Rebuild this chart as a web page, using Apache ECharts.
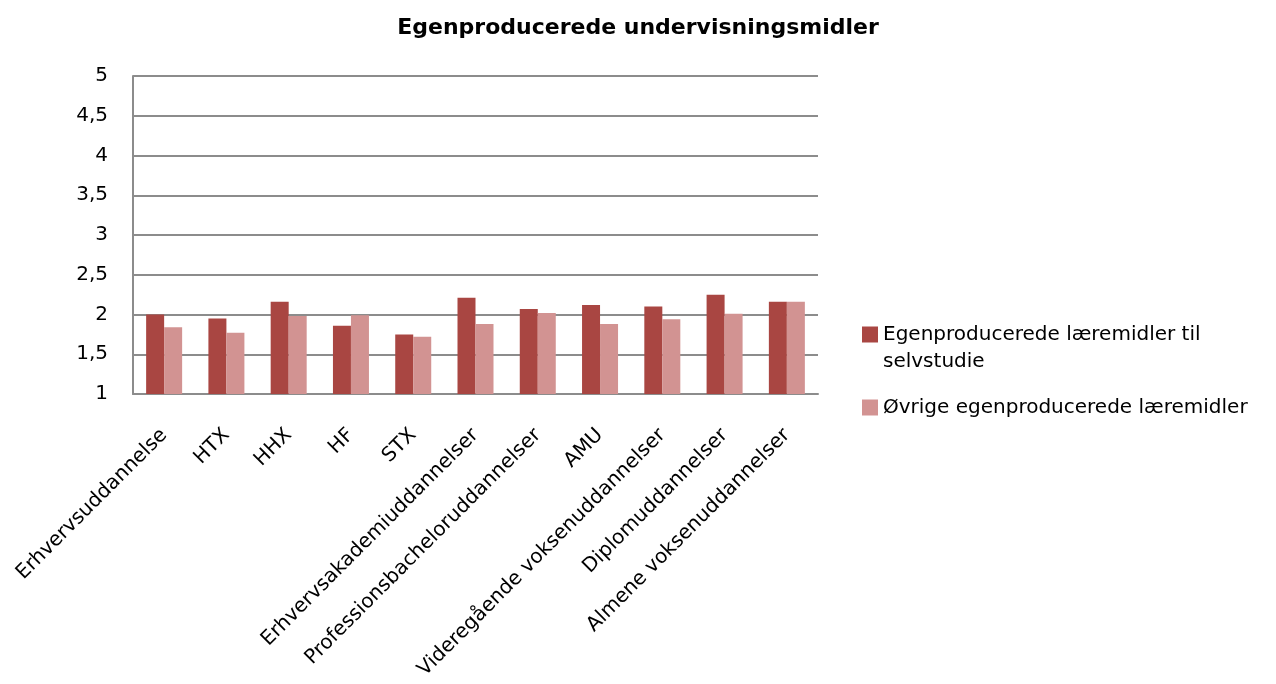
<!DOCTYPE html>
<html>
<head>
<meta charset="utf-8">
<script src="https://cdn.jsdelivr.net/npm/echarts@6/dist/echarts.min.js"></script>
<style>
  html, body { margin: 0; padding: 0; background: #ffffff; }
  #chart { width: 1276px; height: 684px; }
</style>
</head>
<body>
<div id="chart"></div>
<script>
// Categories along the x axis
const categories = [
  'Erhvervsuddannelse', 'HTX', 'HHX', 'HF', 'STX',
  'Erhvervsakademiuddannelser', 'Professionsbacheloruddannelser', 'AMU',
  'Videregående voksenuddannelser', 'Diplomuddannelser', 'Almene voksenuddannelser'
];

// Series names
const seriesNames = [
  'Egenproducerede læremidler til selvstudie',
  'Øvrige egenproducerede læremidler'
];

// Mean scores per category
const selvstudie = [2.00, 1.95, 2.16, 1.86, 1.75, 2.21, 2.07, 2.12, 2.10, 2.25, 2.16];
const oevrige    = [1.84, 1.77, 1.98, 1.99, 1.72, 1.88, 2.02, 1.88, 1.94, 2.01, 2.16];

// Y axis range and step
const yMin = 1, yMax = 5, yStep = 0.5;

const font = 'DejaVu Sans';
const chart = echarts.init(document.getElementById('chart'), null, { renderer: 'canvas' });

chart.setOption({
  backgroundColor: '#ffffff',
  animation: false,
  title: {
    text: 'Egenproducerede undervisningsmidler',
    left: 'center',
    top: 12,
    textStyle: { fontFamily: font, fontWeight: 'bold', fontSize: 22, color: '#000' }
  },
  legend: {
    orient: 'vertical',
    left: 857,
    top: 289,
    itemWidth: 16,
    itemHeight: 16,
    itemGap: 19,
    icon: 'rect',
    textStyle: { fontFamily: font, fontSize: 20, color: '#000', lineHeight: 27 },
    // the long name wraps onto a second line; a blank first line keeps the swatch level with the first text line
    formatter: name => name === seriesNames[0]
      ? '\nEgenproducerede læremidler til\nselvstudie'
      : name,
    data: seriesNames
  },
  grid: { left: 133, right: 458, top: 76, bottom: 290, containLabel: false },
  xAxis: {
    type: 'category',
    data: categories,
    axisLine: { lineStyle: { color: '#8c8c8c', width: 2 } },
    axisTick: { show: false },
    axisLabel: {
      interval: 0,
      rotate: 45,
      margin: 38,
      fontFamily: font,
      fontSize: 20,
      color: '#000'
    }
  },
  yAxis: {
    type: 'value',
    min: yMin,
    max: yMax,
    interval: yStep,
    axisLine: { show: true, lineStyle: { color: '#8c8c8c', width: 2 } },
    axisTick: { show: false },
    splitLine: { lineStyle: { color: '#8c8c8c', width: 2 } },
    axisLabel: {
      margin: 25,
      fontFamily: font,
      fontSize: 20,
      color: '#000',
      formatter: v => String(v).replace('.', ',')
    }
  },
  series: [
    {
      name: seriesNames[0],
      type: 'bar',
      data: selvstudie,
      barWidth: 18,
      barGap: '0%',
      itemStyle: { color: '#a94642' }
    },
    {
      name: seriesNames[1],
      type: 'bar',
      data: oevrige,
      barWidth: 18,
      itemStyle: { color: '#d29392' }
    }
  ]
});
</script>
</body>
</html>
